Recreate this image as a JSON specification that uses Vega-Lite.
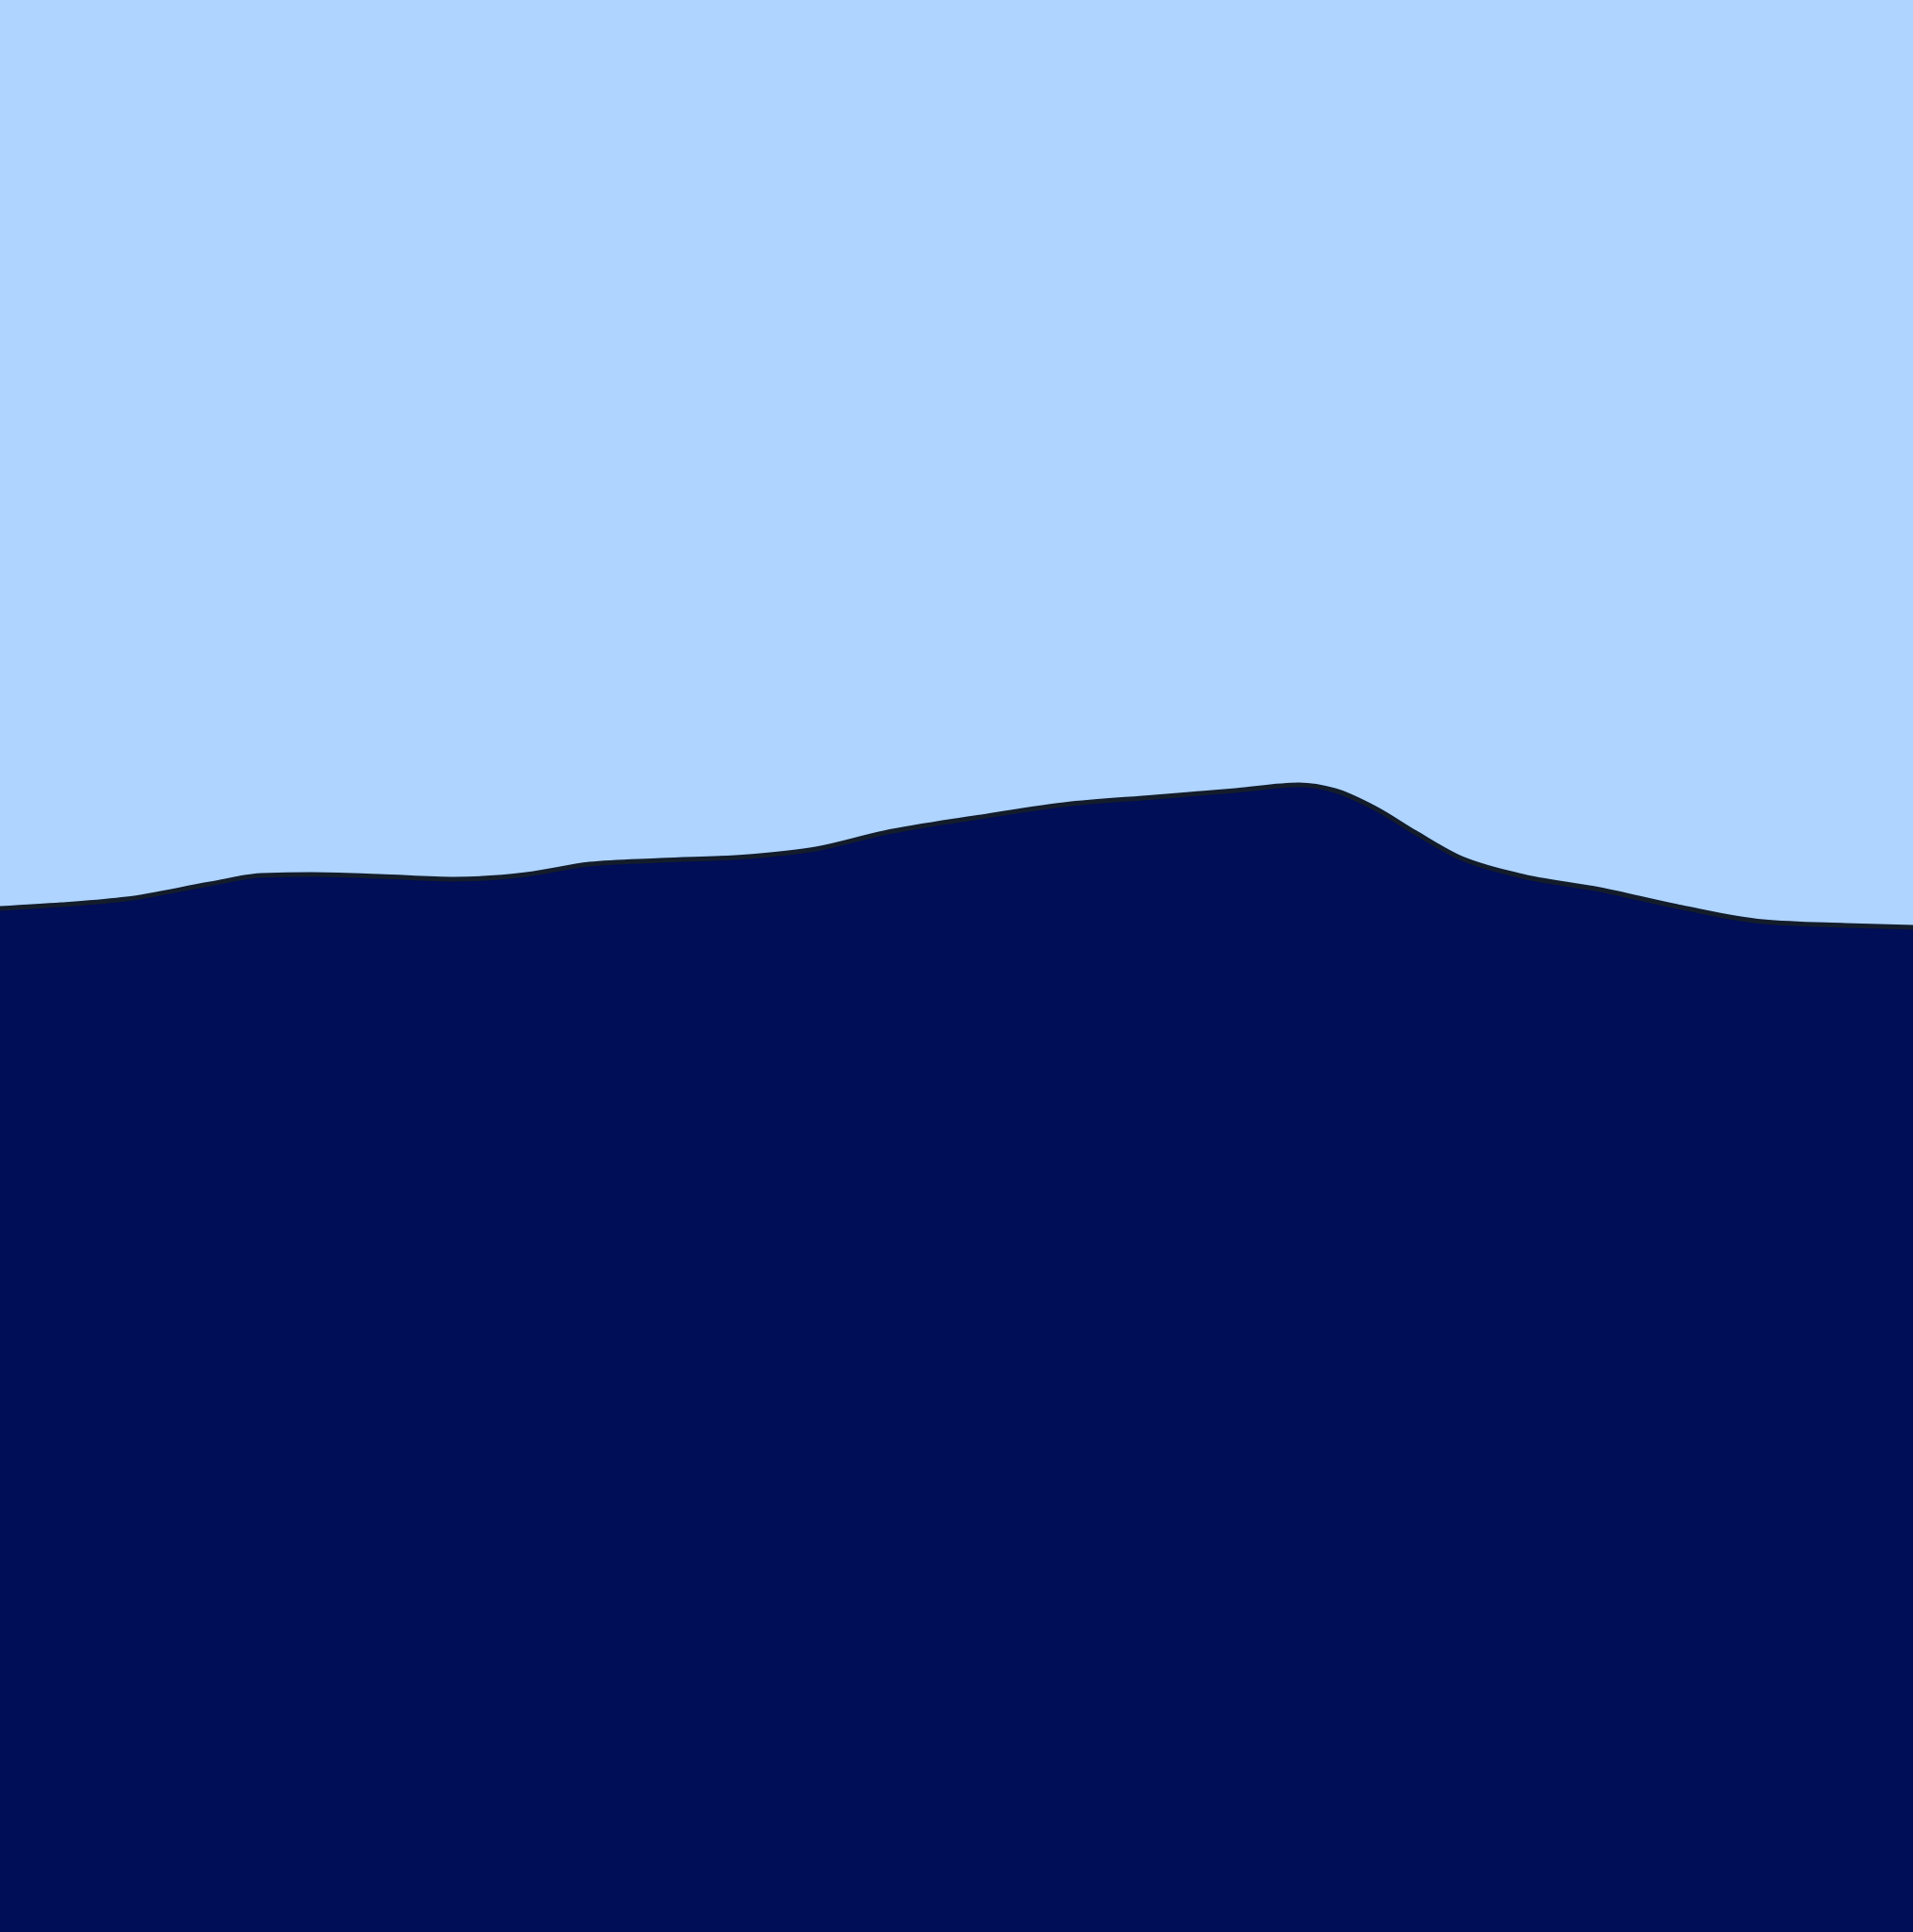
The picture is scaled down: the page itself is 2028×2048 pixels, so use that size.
{
  "$schema": "https://vega.github.io/schema/vega-lite/v6.json",
  "width": 2028,
  "height": 2048,
  "autosize": {"type": "fit", "contains": "padding"},
  "padding": 0,
  "background": "#AED4FF",
  "config": {"view": {"stroke": null}},
  "data": {
    "values": [
      {"x": 0, "v": 1085},
      {"x": 65, "v": 1089},
      {"x": 134, "v": 1095},
      {"x": 223, "v": 1111},
      {"x": 277, "v": 1120},
      {"x": 330, "v": 1121},
      {"x": 402, "v": 1119},
      {"x": 482, "v": 1116},
      {"x": 558, "v": 1121},
      {"x": 625, "v": 1132},
      {"x": 700, "v": 1136},
      {"x": 794, "v": 1140},
      {"x": 865, "v": 1148},
      {"x": 937, "v": 1165},
      {"x": 1033, "v": 1181},
      {"x": 1128, "v": 1195},
      {"x": 1224, "v": 1203},
      {"x": 1310, "v": 1210},
      {"x": 1377, "v": 1216},
      {"x": 1415, "v": 1210},
      {"x": 1458, "v": 1191},
      {"x": 1501, "v": 1165},
      {"x": 1545, "v": 1140},
      {"x": 1610, "v": 1120},
      {"x": 1696, "v": 1105},
      {"x": 1783, "v": 1086},
      {"x": 1869, "v": 1071},
      {"x": 1956, "v": 1067},
      {"x": 2028, "v": 1065}
    ]
  },
  "encoding": {
    "x": {"field": "x", "type": "quantitative", "axis": null, "scale": {"domain": [0, 2028], "nice": false, "zero": false}},
    "y": {"field": "v", "type": "quantitative", "axis": null, "scale": {"domain": [0, 2048], "nice": false}}
  },
  "layer": [
    {"mark": {"type": "area", "interpolate": "monotone", "color": "#000D57", "opacity": 1, "clip": true}},
    {"mark": {"type": "line", "interpolate": "monotone", "color": "#131C2B", "strokeWidth": 5, "clip": true}}
  ]
}
